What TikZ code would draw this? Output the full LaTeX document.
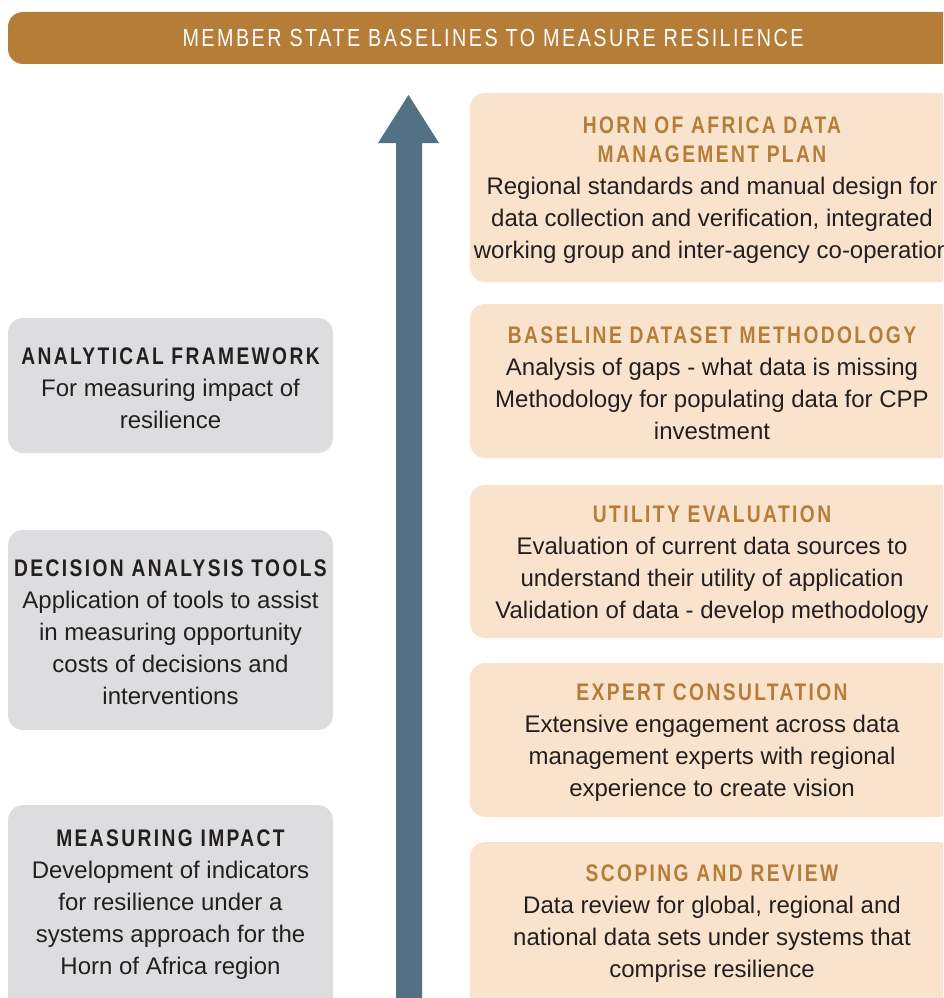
\documentclass[tikz,border=0pt]{standalone}
\usepackage{fontspec}
\setmainfont{Liberation Sans}
\newfontfamily\headfont[FakeStretch=0.8,LetterSpace=10]{Liberation Sans}
\usetikzlibrary{positioning}

\definecolor{ochre}{RGB}{181,125,56}
\definecolor{peach}{RGB}{249,227,205}
\definecolor{greybox}{RGB}{221,221,223}
\definecolor{slate}{RGB}{82,114,132}
\definecolor{ink}{RGB}{35,31,32}

\newcommand{\boxhead}[1]{\rule{0pt}{22pt}{\headfont\bfseries #1}}

\begin{document}
\begin{tikzpicture}[x=1pt,y=-1pt,inner sep=0pt,
  body/.style={align=center,text=ink,font=\fontsize{24}{32}\selectfont},
  headbar/.style={rectangle,rounded corners=15pt,fill=ochre,text=white,
    minimum width=970pt,minimum height=52pt,font=\fontsize{24.7}{32}\selectfont},
  rbox/.style={body,rectangle,rounded corners=15pt,fill=peach,minimum width=484pt},
  lbox/.style={body,rectangle,rounded corners=15pt,fill=greybox,minimum width=325pt}]
  \useasboundingbox (0,0) rectangle (943,998);
  \clip (0,0) rectangle (943,998);

  \node[headbar] (top) at (493,38) {\headfont MEMBER STATE BASELINES TO MEASURE RESILIENCE};

  % upward arrow
  \fill[slate] (396,1000) -- (396,143) -- (378,143) -- (408.5,95)
    -- (439,143) -- (422,143) -- (422,1000) -- cycle;

  % right column
  \node[rbox,minimum height=189pt] (plan) at (712,187.5)
    {\textcolor{ochre}{\boxhead{HORN OF AFRICA DATA}}\\[-3pt]
     \textcolor{ochre}{\boxhead{MANAGEMENT PLAN}}\\
     Regional standards and manual design for\\
     data collection and verification, integrated\\
     working group and inter-agency co-operation};
  \node[rbox,minimum height=154pt] (method) at (712,381)
    {\textcolor{ochre}{\boxhead{BASELINE DATASET METHODOLOGY}}\\
     Analysis of gaps - what data is missing\\
     Methodology for populating data for CPP\\
     investment};
  \node[rbox,minimum height=153pt] (utility) at (712,561.5)
    {\textcolor{ochre}{\boxhead{UTILITY EVALUATION}}\\
     Evaluation of current data sources to\\
     understand their utility of application\\
     Validation of data - develop methodology};
  \node[rbox,minimum height=154pt] (expert) at (712,740)
    {\textcolor{ochre}{\boxhead{EXPERT CONSULTATION}}\\
     Extensive engagement across data\\
     management experts with regional\\
     experience to create vision};
  \node[rbox,minimum height=200pt,anchor=north] (scoping) at (712,842) {};
  \node[body] (scopingtext) at (712,921)
    {\textcolor{ochre}{\boxhead{SCOPING AND REVIEW}}\\
     Data review for global, regional and\\
     national data sets under systems that\\
     comprise resilience};

  % left column
  \node[lbox,minimum height=135pt] (frame) at (170.5,385.5)
    {\boxhead{ANALYTICAL FRAMEWORK}\\
     For measuring impact of\\
     resilience};
  \node[lbox,minimum height=200pt] (tools) at (170.5,630)
    {\boxhead{DECISION ANALYSIS TOOLS}\\
     Application of tools to assist\\
     in measuring opportunity\\
     costs of decisions and\\
     interventions};
  \node[lbox,minimum height=230pt,anchor=north] (impact) at (170.5,805) {};
  \node[body] (impacttext) at (170.5,901.5)
    {\boxhead{MEASURING IMPACT}\\
     Development of indicators\\
     for resilience under a\\
     systems approach for the\\
     Horn of Africa region};
\end{tikzpicture}
\end{document}
